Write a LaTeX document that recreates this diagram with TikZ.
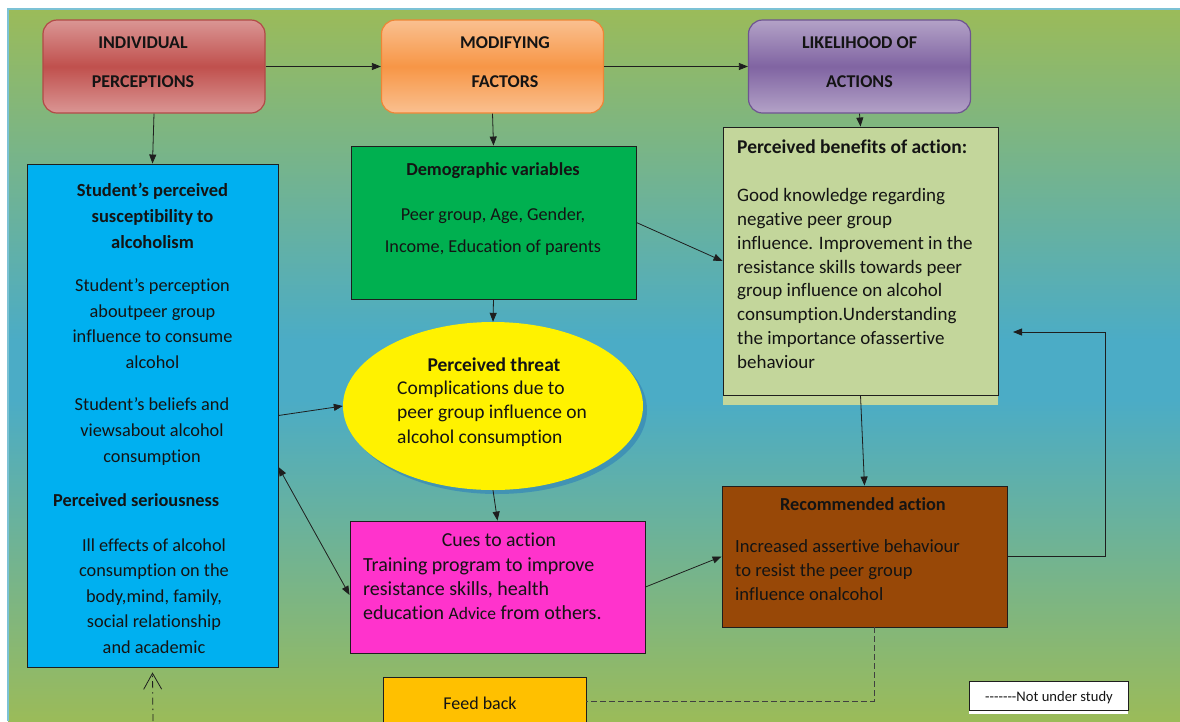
\documentclass[tikz,border=0pt]{standalone}
\usepackage{fontspec}
\setmainfont{Carlito}[Ligatures={TeX,NoCommon}]
\usetikzlibrary{arrows.meta,shapes.geometric,shadows}

\definecolor{bggreen}{HTML}{9BBB59}
\definecolor{bgblue}{HTML}{4BACC6}
\definecolor{bordercol}{HTML}{7CC2D5}
\definecolor{redlt}{HTML}{DA9694}
\definecolor{redmd}{HTML}{C0504D}
\definecolor{redbd}{HTML}{B24A47}
\definecolor{orlt}{HTML}{FAC090}
\definecolor{ormd}{HTML}{F79646}
\definecolor{orbd}{HTML}{EE8636}
\definecolor{pult}{HTML}{B3A2C7}
\definecolor{pumd}{HTML}{8064A2}
\definecolor{pubd}{HTML}{6E5491}
\definecolor{sbblue}{HTML}{00B0F0}
\definecolor{dvgreen}{HTML}{00B050}
\definecolor{pbgreen}{HTML}{C3D69B}
\definecolor{camag}{HTML}{FF33CC}
\definecolor{rabrown}{HTML}{984807}
\definecolor{fbgold}{HTML}{FFC000}
\definecolor{shcol}{HTML}{3A8CB6}
\definecolor{linecol}{HTML}{1E1E1E}
\definecolor{txtcol}{HTML}{141414}

\pgfdeclareverticalshading{redband}{100bp}{color(0bp)=(redlt); color(25bp)=(redlt); color(50bp)=(redmd); color(75bp)=(redlt); color(100bp)=(redlt)}
\pgfdeclareverticalshading{orband}{100bp}{color(0bp)=(orlt); color(25bp)=(orlt); color(50bp)=(ormd); color(75bp)=(orlt); color(100bp)=(orlt)}
\pgfdeclareverticalshading{puband}{100bp}{color(0bp)=(pult); color(25bp)=(pult); color(50bp)=(pumd); color(75bp)=(pult); color(100bp)=(pult)}

\begin{document}
\begin{tikzpicture}[x=1pt,y=-1pt,
  arr/.style={-{Triangle[length=9pt,width=7pt]},line width=0.8pt,draw=linecol},
  dblarr/.style={{Triangle[length=9pt,width=7pt]}-{Triangle[length=9pt,width=7pt]},line width=0.8pt,draw=linecol},
  fbarr/.style={-{Straight Barb[length=16pt,width=18pt]},line width=0.8pt,draw=linecol,dash pattern=on 7pt off 4pt on 1.5pt off 4pt},
  nstudy/.style={draw=linecol!85,line width=0.8pt,dash pattern=on 6pt off 3pt},
  hdr/.style={rounded corners=14pt,draw=#1,line width=1.2pt,minimum width=222pt,minimum height=93pt,inner sep=0pt},
  hdrtxt/.style={font=\bfseries\fontsize{18}{39}\selectfont,align=center,inner sep=0pt,text=txtcol},
  panel/.style={draw=linecol,line width=0.9pt,inner sep=0pt},
  bt/.style={inner sep=0pt,text=txtcol,align=center}]
\useasboundingbox (0,0) rectangle (1180,721);
% background
\fill[white] (0,0) rectangle (1180,721);
\shade[top color=bggreen,bottom color=bgblue] (8,9) rectangle (1180,340);
\fill[bgblue] (8,339) rectangle (1180,401);
\shade[top color=bgblue,bottom color=bggreen] (8,400) rectangle (1180,721);
\draw[bordercol,line width=1.5pt] (8,721) -- (8,9) -- (1180,9);

% header row
\node[hdr=redbd,shading=redband] (ip) at (154,66.5) {};
\node[hdrtxt] (ipt) at (143,62.5) {INDIVIDUAL\\PERCEPTIONS};
\node[hdr=orbd,shading=orband] (mf) at (492.5,66.5) {};
\node[hdrtxt] (mft) at (505,62.5) {MODIFYING\\FACTORS};
\node[hdr=pubd,shading=puband] (la) at (859.5,66.5) {};
\node[hdrtxt] (lat) at (859.5,62.5) {LIKELIHOOD OF\\ACTIONS};

% susceptibility / seriousness
\node[panel,fill=sbblue,minimum width=251pt,minimum height=503pt] (sps) at (152.5,415.5) {};
\node[bt,font=\bfseries\fontsize{18.5}{26}\selectfont] (spst1) at (152.5,216) {Student’s perceived\\susceptibility to\\alcoholism};
\node[bt,font=\fontsize{18.3}{25.7}\selectfont] (spst2) at (152.5,323.5) {Student’s perception\\aboutpeer group\\influence to consume\\alcohol};
\node[bt,font=\fontsize{18.3}{26}\selectfont] (spst3) at (152,432) {Student’s beliefs and\\viewsabout alcohol\\consumption};
\node[bt,anchor=west,font=\bfseries\fontsize{18.3}{20}\selectfont] (spst4) at (53,500) {Perceived seriousness};
\node[bt,font=\fontsize{18.3}{25.5}\selectfont] (spst5) at (154,596) {Ill effects of alcohol\\consumption on the\\body,mind, family,\\social relationship\\and academic};

% demographic variables
\node[panel,fill=dvgreen,minimum width=285pt,minimum height=153pt] (dv) at (493.5,222.5) {};
\node[bt,font=\bfseries\fontsize{18.3}{20}\selectfont] (dvt1) at (493,171) {Demographic variables};
\node[bt,font=\fontsize{18.2}{32}\selectfont] (dvt2) at (493,232) {Peer group, Age, Gender,\\Income, Education of parents};

% perceived benefits
\fill[pbgreen] (723,394) rectangle (998,405);
\node[panel,fill=pbgreen,minimum width=275pt,minimum height=268pt] (pb) at (860.5,261) {};
\node[bt,anchor=west,font=\bfseries\fontsize{19.5}{24}\selectfont] (pbt1) at (737,147) {Perceived benefits of action:};
\node[bt,anchor=west,align=left,font=\fontsize{19}{23.9}\selectfont] (pbt2) at (737,278.5) {Good knowledge regarding\\negative peer group\\influence. Improvement in the\\resistance skills towards peer\\group influence on alcohol\\consumption.Understanding\\the importance ofassertive\\behaviour};

% perceived threat
\node[ellipse,fill=yellow,minimum width=300pt,minimum height=168pt,inner sep=0pt,
  drop shadow={shadow xshift=4pt,shadow yshift=-4pt,fill=shcol,opacity=0.8}] (pt) at (493,406) {};
\node[bt,font=\bfseries\fontsize{19.5}{24}\selectfont] (ptt1) at (494,365) {Perceived threat};
\node[bt,anchor=west,align=left,font=\fontsize{19.5}{24.5}\selectfont] (ptt2) at (397,413.5) {Complications due to\\peer group influence on\\alcohol consumption};

% cues to action
\node[panel,fill=camag,minimum width=295pt,minimum height=132pt] (ca) at (497.5,587) {};
\node[bt,font=\fontsize{19.8}{24}\selectfont] (cat1) at (499,540) {Cues to action};
\node[bt,anchor=west,align=left,font=\fontsize{20}{24}\selectfont] (cat2) at (363,589) {Training program to improve\\resistance skills, health\\education {\fontsize{17.5}{24}\selectfont Advice} from others.};

% recommended action
\node[panel,fill=rabrown,minimum width=285pt,minimum height=141pt] (ra) at (864.5,556.5) {};
\node[bt,font=\bfseries\fontsize{18.3}{24}\selectfont] (rat1) at (863,504) {Recommended action};
\node[bt,anchor=west,align=left,font=\fontsize{18.6}{24}\selectfont] (rat2) at (735,570) {Increased assertive behaviour\\to resist the peer group\\influence onalcohol};

% feed back
\node[panel,fill=fbgold,minimum width=203pt,minimum height=48pt] (fb) at (484.5,701) {};
\node[bt,font=\fontsize{18}{20}\selectfont] (fbt) at (480,703) {Feed back};

% legend
\fill[white] (969,709) rectangle (1128,714);
\node[panel,fill=white,line width=0.6pt,minimum width=159pt,minimum height=29pt] (leg) at (1048.5,695.5) {};
\node[bt,font=\fontsize{14.6}{16}\selectfont] (legt) at (1049,698) {-\kern0pt-\kern0pt-\kern0pt-\kern0pt-\kern0pt-\kern0pt-Not under study};

% connectors
\draw[arr] (ip.east) -- (mf.west);
\draw[arr] (mf.east) -- (la.west);
\draw[arr] (ip.south) -- (sps.north);
\draw[arr] (mf.south) -- (dv.north);
\draw[arr] (la.south) -- (pb.north);
\draw[arr] (dv.south) -- (pt.north);
\draw[arr] (sps.east) -- (pt.west);
\draw[arr] (pt.south) -- (ca.north);
\draw[dblarr] ([yshift=-51.5pt]sps.east) -- ([yshift=-8pt]ca.west);
\draw[arr] (dv.east) -- (pb.west);
\draw[arr] (ca.east) -- (ra.west);
\draw[arr] (pb.south) -- (ra.north);
\coordinate (loop) at (1105,332);
\coordinate (loopend) at (1013,332);
\draw[arr] (ra.east) -| (loop) -- (loopend);
\draw[nstudy] ([xshift=9.5pt]ra.south) |- (fb.east);
\coordinate (fbin) at (153,721);
\draw[fbarr] (fbin) -- ([yshift=-5pt]sps.south);
\end{tikzpicture}
\end{document}
